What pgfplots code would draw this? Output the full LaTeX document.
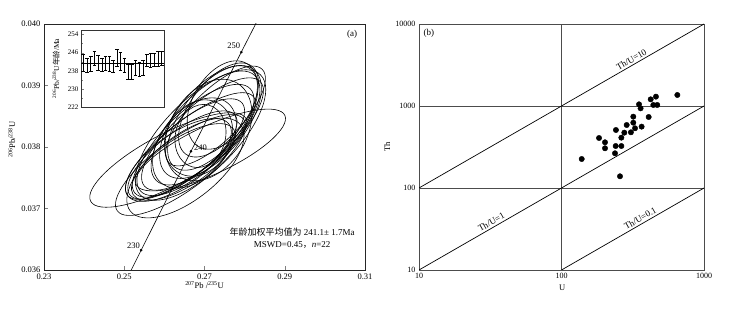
\documentclass[border=0pt]{standalone}
\usepackage{pgfplots}
\pgfplotsset{compat=1.18}
\usepackage{pgfplotstable}
\usepackage{fontspec}
\setmainfont{Liberation Serif}
\newfontfamily\cjk{Noto Sans CJK SC}

% error ellipses: centre (x,y), semi-axes a,b (pt), rotation r (deg)
\pgfplotstableread{
x y a b r
0.26775 0.038114 75 30 43
0.26600 0.037984 70 26 40
0.27025 0.038309 72 32 47
0.26450 0.037870 66 24 37
0.27150 0.038407 68 34 50
0.26850 0.038146 40 32 60
0.26900 0.038179 32 25 75
0.26650 0.038016 80 26 38
0.27200 0.038472 62 30 52
0.26350 0.037789 62 26 35
0.26900 0.038195 85 36 45
0.27100 0.038276 55 38 58
0.26400 0.037707 78 26 36
0.27350 0.038602 55 28 53
0.26750 0.038065 52 33 50
0.26950 0.038211 78 28 42
0.26475 0.037756 60 24 33
0.27275 0.038504 66 25 45
0.27450 0.038683 48 30 60
0.26525 0.037659 70 32 38
0.26100 0.037789 88 26 28
0.27150 0.037951 82 24 25
}\ellipses

\pgfplotstableread{
n c e
1 241.55 3.85
2 240.40 3.10
3 240.95 3.25
4 243.40 3.20
5 241.65 3.35
6 240.60 3.00
7 241.10 3.10
8 240.95 3.25
9 240.05 2.65
10 243.65 3.85
11 242.25 3.85
12 240.45 3.15
13 237.65 3.35
14 237.50 3.20
15 239.30 3.10
16 238.60 3.10
17 239.25 3.45
18 242.60 2.80
19 242.60 3.10
20 242.75 2.95
21 243.25 3.15
22 243.55 3.05
}\ages

\pgfplotstableread{
U Th
138.6 225.8
257.3 138.9
183.4 407
202 360.8
202 305
237.4 265
240 325
263 325
241 509.8
263 411
276 473
286.7 586.6
307 477.6
319 626
319 741
328 535
365 560
409 734
350 1048
359 936
422.5 1206
460 1300
441 1029
470 1029
650 1362
}\thu

\pgfdeclareplotmark{errell}{\pgfpathellipse{\pgfpointorigin}{\pgfqpoint{\ellA pt}{0pt}}{\pgfqpoint{0pt}{\ellB pt}}\pgfusepathqstroke}

\begin{document}
\begin{tikzpicture}
\useasboundingbox (0,0) rectangle (742pt,310pt);

% ---------------- panel (a)
\begin{axis}[at={(44pt,40pt)}, anchor=south west, scale only axis,
  width=321pt, height=246pt,
  xmin=0.23, xmax=0.31, ymin=0.036, ymax=0.040,
  xtick={0.23,0.25,0.27,0.29,0.31},
  ytick={0.036,0.037,0.038,0.039,0.040},
  scaled x ticks=false, scaled y ticks=false,
  xticklabel style={/pgf/number format/.cd, fixed, fixed zerofill, precision=2},
  yticklabel style={/pgf/number format/.cd, fixed, fixed zerofill, precision=3},
  /pgf/number format/assume math mode=true,
  tick label style={font=\fontsize{8.5}{10}\selectfont},
  tick pos=left, tick align=inside, major tick length=4pt,
  axis line style={line width=0.8pt, black!85},
  xlabel={\textsuperscript{207}Pb /\textsuperscript{235}U},
  ylabel={\textsuperscript{206}Pb/\textsuperscript{238}U},
  label style={font=\fontsize{8.5}{10}\selectfont},
  xlabel style={at={(axis description cs:0.5,-0.06)}, anchor=center},
  ylabel style={at={(axis description cs:-0.1,0.53)}, anchor=center, rotate=0},
  clip=true]
\addplot[scatter, only marks, mark=errell, point meta=y,
  visualization depends on={\thisrow{a} \as \ellA},
  visualization depends on={\thisrow{b} \as \ellB},
  visualization depends on={\thisrow{r} \as \ellR},
  scatter/@pre marker code/.code={\pgfscope\pgfsetlinewidth{0.6pt}\pgfsetstrokecolor{black}\pgftransformrotate{\ellR}},
  scatter/@post marker code/.code={\endpgfscope}]
  table[x=x, y=y] {\ellipses};
\addplot[black, line width=0.6pt, smooth] coordinates {
  (0.248061,0.035519) (0.254223,0.036323) (0.260415,0.037127)
  (0.266636,0.037932) (0.272888,0.038737) (0.279171,0.039543)
  (0.282956,0.040027)};
\addplot[only marks, mark=*, mark size=1.1pt, black] coordinates {
  (0.254223,0.036323) (0.266636,0.037932) (0.279171,0.039543)};
\node[font=\fontsize{8.5}{10}\selectfont, anchor=south east, inner sep=1pt] at (axis cs:0.254223,0.036323) {230};
\node[font=\fontsize{8.5}{10}\selectfont, anchor=west, inner sep=1pt, xshift=2pt, yshift=3pt] at (axis cs:0.266636,0.037932) {240};
\node[font=\fontsize{8.5}{10}\selectfont, anchor=south east, inner sep=1pt, yshift=2pt] at (axis cs:0.279171,0.039543) {250};
\node[font=\fontsize{9}{10}\selectfont] at (axis description cs:0.96,0.96) {(a)};
\node[font=\fontsize{9}{11.5}\selectfont, align=center] at (axis description cs:0.773,0.13)
  {{\cjk 年龄加权平均值为} 241.1\textpm\ 1.7Ma\\ MSWD=0.45{\cjk ，}\textit{n}=22};
\end{axis}

% ---------------- inset
\begin{axis}[at={(81pt,203pt)}, anchor=south west, scale only axis,
  width=83pt, height=77pt,
  xmin=0.4, xmax=22.6, ymin=222, ymax=256,
  xtick=\empty, ytick={222,230,238,246,254},
  minor ytick={226,234,242,250},
  ytick pos=left, tick align=inside,
  major tick length=2.5pt, minor tick length=1.5pt,
  /pgf/number format/assume math mode=true,
  tick label style={font=\fontsize{7}{8}\selectfont},
  yticklabel style={xshift=1pt},
  axis line style={line width=0.6pt, black!80},
  axis background/.style={fill=white},
  ylabel={\textsuperscript{206}Pb/\textsuperscript{238}U{\cjk 年龄}/Ma},
  ylabel style={at={(axis description cs:-0.3,0.5)}, anchor=center, font=\fontsize{7.5}{8}\selectfont}]
\addplot[black, line width=0.6pt] coordinates {(0.4,241.1) (22.6,241.1)};
\addplot[black, only marks, mark=*, mark size=0pt, forget plot,
  error bars/.cd, y dir=both, y explicit, error mark=-,
  error mark options={rotate=90, black, line width=0.6pt, mark size=1.8pt},
  error bar style={black, line width=0.7pt}]
  table[x=n, y=c, y error=e] {\ages};
\end{axis}

% ---------------- panel (b)
\begin{axis}[at={(419pt,40pt)}, anchor=south west, scale only axis,
  width=285pt, height=246pt,
  xmode=log, ymode=log, xmin=10, xmax=1000, ymin=10, ymax=10000,
  xtick={10,100,1000}, ytick={10,100,1000,10000},
  log ticks with fixed point,
  /pgf/number format/1000 sep={},
  /pgf/number format/assume math mode=true,
  xminorticks=false, yminorticks=false, major tick length=0pt,
  xmajorgrids, ymajorgrids, grid style={black!70, line width=0.8pt},
  axis line style={black!70, line width=0.8pt},
  tick label style={font=\fontsize{8}{9}\selectfont},
  xlabel={U}, ylabel={Th},
  label style={font=\fontsize{8.5}{10}\selectfont},
  xlabel style={at={(axis description cs:0.502,-0.073)}, anchor=center},
  ylabel style={at={(axis description cs:-0.112,0.5)}, anchor=center}]
\addplot[black, line width=0.7pt] coordinates {(10,100) (1000,10000)};
\addplot[black, line width=0.7pt] coordinates {(10,10) (1000,1000)};
\addplot[black, line width=0.7pt] coordinates {(100,10) (1000,100)};
\addplot[only marks, mark=*, mark size=2.7pt, black] table[x=U, y=Th] {\thu};
\node[font=\fontsize{9}{10}\selectfont, rotate=29.9, anchor=south, inner sep=2pt] at (axis cs:323.7,3237) {Th/U=10};
\node[font=\fontsize{9}{10}\selectfont, rotate=29.9, anchor=south, inner sep=2pt] at (axis cs:33.6,33.6) {Th/U=1};
\node[font=\fontsize{9}{10}\selectfont, rotate=29.9, anchor=south, inner sep=2pt] at (axis cs:373,37.3) {Th/U=0.1};
\node[font=\fontsize{9}{10}\selectfont] at (axis description cs:0.035,0.96) {(b)};
\end{axis}
\end{tikzpicture}
\end{document}
